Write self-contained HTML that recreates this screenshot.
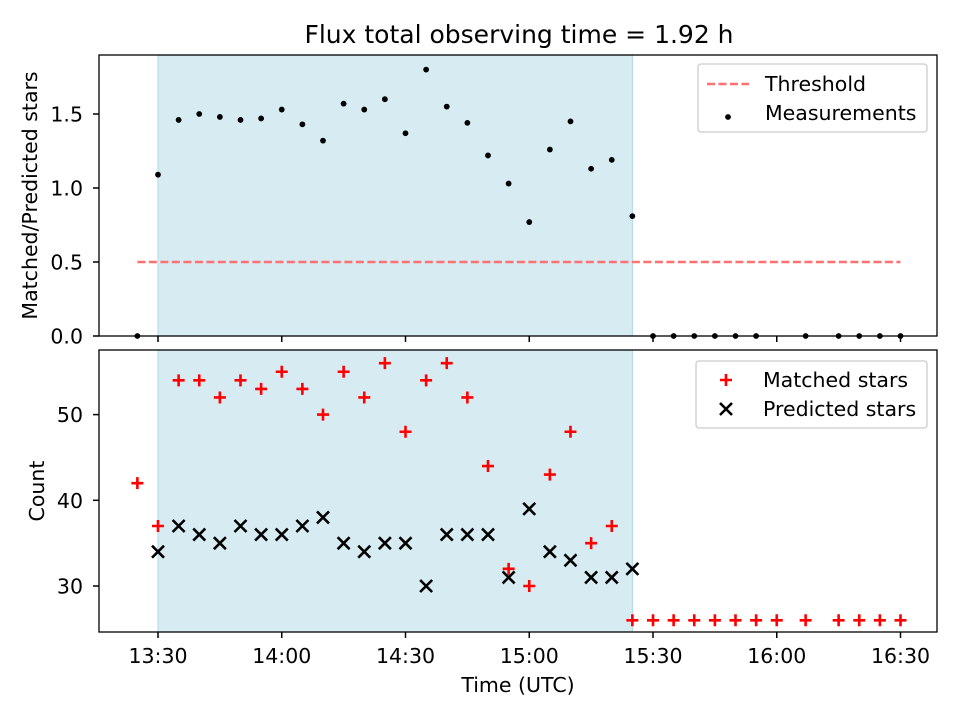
<!DOCTYPE html>
<html><head><meta charset="utf-8"><style>
body{margin:0;background:#fff}
svg text{font-family:"DejaVu Sans","Liberation Sans",sans-serif;fill:#000}
</style></head><body>
<svg id="c" width="960" height="720" xmlns="http://www.w3.org/2000/svg"></svg>
<script>
const topTimes=[-5,0,5,10,15,20,25,30,35,40,45,50,55,60,65,70,75,80,85,90,95,100,105,110,115,120,125,130,135,140,145,157,165,170,175,180];
const ratioVals=[0,1.09,1.46,1.50,1.48,1.46,1.47,1.53,1.43,1.32,1.57,1.53,1.60,1.37,1.80,1.55,1.44,1.22,1.03,0.77,1.26,1.45,1.13,1.19,0.81,0,0,0,0,0,0,0,0,0,0,0];
const matchedTimes=[-5,0,5,10,15,20,25,30,35,40,45,50,55,60,65,70,75,80,85,90,95,100,105,110,115,120,125,130,135,140,145,150,157,165,170,175,180];
const matchedVals=[42,37,54,54,52,54,53,55,53,50,55,52,56,48,54,56,52,44,32,30,43,48,35,37,26,26,26,26,26,26,26,26,26,26,26,26,26];
const predTimes=[0,5,10,15,20,25,30,35,40,45,50,55,60,65,70,75,80,85,90,95,100,105,110,115];
const predVals=[34,37,36,35,37,36,36,37,38,35,34,35,35,30,36,36,36,31,39,34,33,31,31,32];
const tickMins=[0,30,60,90,120,150,180];
const tickLabels=["13:30","14:00","14:30","15:00","15:30","16:00","16:30"];
const topTicks=[0,0.5,1.0,1.5];
const botTicks=[30,40,50];
const threshold=0.5, shadeStart=0, shadeEnd=115, thrStart=-5, thrEnd=180;

const NS="http://www.w3.org/2000/svg", svg=document.getElementById('c');
function el(t,a,p){const e=document.createElementNS(NS,t);for(const k in a)e.setAttribute(k,a[k]);(p||svg).appendChild(e);return e;}
const L=99,R=937,FS=20.5;
const x=m=>158+m*(653-158)/120;
const yT=v=>336-v*148;
const yB=v=>586-(v-30)*8.57;
let t=el('text',{x:519,y:43,'font-size':'25','text-anchor':'middle'});t.textContent='Flux total observing time = 1.92 h';

function panel(y0,y1,yf,ticks,fmt,ylabel,nm){
  const g=el('g',{});
  const s=el('rect',{x:x(shadeStart),y:y0,width:x(shadeEnd)-x(shadeStart),height:y1-y0,fill:'#add8e6','fill-opacity':0.5,stroke:'#add8e6'},g);
  
  ticks.forEach(v=>{const yy=yf(v);el('line',{x1:L-6,x2:L,y1:yy,y2:yy,stroke:'#000','stroke-width':1.5},g);
    const tt=el('text',{x:L-16,y:yy+7.5,'font-size':FS,'text-anchor':'end'},g);tt.textContent=fmt(v);
    });
  tickMins.forEach(m=>el('line',{x1:x(m),x2:x(m),y1:y1,y2:y1+6,stroke:'#000','stroke-width':1.5},g));
  const yl=el('text',{x:0,y:0,'font-size':FS,'text-anchor':'middle','dominant-baseline':'central',transform:`translate(${nm=='top-panel'?30:37},${(y0+y1)/2}) rotate(-90)`},g);
  yl.textContent=ylabel;
  return g;
}
const g1=panel(55,336,yT,topTicks,v=>v.toFixed(1),'Matched/Predicted stars','top-panel');
const thr=el('line',{x1:x(thrStart),x2:x(thrEnd),y1:yT(threshold),y2:yT(threshold),stroke:'#ff7070','stroke-width':2.5,'stroke-dasharray':'8,3.5'},g1);

topTimes.forEach((m,i)=>{const c=el('circle',{cx:x(m),cy:yT(ratioVals[i]),r:2.9,fill:'#000'},g1);
  });
el('rect',{x:L,y:55,width:R-L,height:281,fill:'none',stroke:'#000','stroke-width':1.3},g1);

const g2=panel(350,632,yB,botTicks,v=>String(v),'Count','bottom-panel');
matchedTimes.forEach((m,i)=>{const cx=x(m),cy=yB(matchedVals[i]);
  const p=el('path',{d:`M${cx-6},${cy}H${cx+6}M${cx},${cy-6}V${cy+6}`,stroke:'#f00','stroke-width':2.6},g2);
  });
predTimes.forEach((m,i)=>{const cx=x(m),cy=yB(predVals[i]);
  const p=el('path',{d:`M${cx-6},${cy-6}L${cx+6},${cy+6}M${cx-6},${cy+6}L${cx+6},${cy-6}`,stroke:'#000','stroke-width':2.6},g2);
  });
el('rect',{x:L,y:350,width:R-L,height:282,fill:'none',stroke:'#000','stroke-width':1.3},g2);
tickMins.forEach((m,i)=>{const tt=el('text',{x:x(m),y:663,'font-size':FS,'text-anchor':'middle'});tt.textContent=tickLabels[i];
  });
t=el('text',{x:518,y:692,'font-size':FS,'text-anchor':'middle'});t.textContent='Time (UTC)';

let lg=el('g',{});
el('rect',{x:698,y:64,width:229,height:68,rx:3,fill:'#fff','fill-opacity':0.8,stroke:'#ccc','stroke-width':1.3},lg);
el('line',{x1:707,x2:749,y1:84,y2:84,stroke:'#ff7070','stroke-width':2.5,'stroke-dasharray':'8,3.5'},lg);
t=el('text',{x:765,y:91,'font-size':FS},lg);t.textContent='Threshold';
el('circle',{cx:728,cy:117,r:2.9,fill:'#000'},lg);
t=el('text',{x:765,y:120,'font-size':FS},lg);t.textContent='Measurements';
lg=el('g',{});
el('rect',{x:696,y:361,width:231,height:67,rx:3,fill:'#fff','fill-opacity':0.8,stroke:'#ccc','stroke-width':1.3},lg);
el('path',{d:'M720,380H732M726,374V386',stroke:'#f00','stroke-width':2.6},lg);
t=el('text',{x:763,y:387,'font-size':FS},lg);t.textContent='Matched stars';
el('path',{d:'M720,403L732,415M720,415L732,403',stroke:'#000','stroke-width':2.6},lg);
t=el('text',{x:763,y:416,'font-size':FS},lg);t.textContent='Predicted stars';
</script>
</body></html>
